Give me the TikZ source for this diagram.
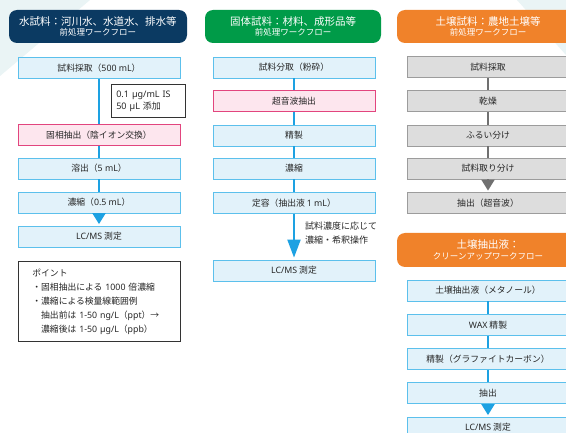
\documentclass[tikz,border=0pt]{standalone}
\usepackage{fontspec}
\setmainfont{Noto Sans CJK JP}
\newfontfamily\latf{Noto Sans}
\newcommand{\lt}[1]{{\latf #1}}
\usetikzlibrary{arrows.meta}
\definecolor{navy}{HTML}{0B3A62}
\definecolor{hgreen}{HTML}{009B48}
\definecolor{horange}{HTML}{F0822A}
\definecolor{bluefill}{HTML}{E2F2FA}
\definecolor{blueedge}{HTML}{5CC0EC}
\definecolor{pinkfill}{HTML}{FDE6EE}
\definecolor{pinkedge}{HTML}{E2457E}
\definecolor{grayfill}{HTML}{DDDDDD}
\definecolor{grayedge}{HTML}{9C9C9C}
\definecolor{connblue}{HTML}{1DA1E2}
\definecolor{conngray}{HTML}{707070}
\definecolor{txt}{HTML}{262626}
\definecolor{bgteal}{HTML}{EAF4F5}
\newcommand{\boxfont}{\fontsize{8.8}{10}\selectfont}
\begin{document}
\begin{tikzpicture}[x=1pt,y=-1pt,
  header/.style={rounded corners=8pt, minimum width=178pt, minimum height=33pt, inner sep=0pt, text=white, align=center},
  bbox/.style={draw=blueedge, fill=bluefill, line width=0.8pt, minimum width=162pt, minimum height=21pt, inner sep=0pt, font=\boxfont, text=txt},
  pbox/.style={bbox, draw=pinkedge, fill=pinkfill},
  gbox/.style={bbox, draw=grayedge, fill=grayfill},
  conn/.style={draw=connblue, line width=2pt},
  gconn/.style={draw=conngray, line width=2pt},
  tri/.style={-{Triangle[width=13pt,length=11pt]}, shorten >=1.5pt},
  notebox/.style={draw=black!80, line width=0.7pt, fill=white, inner sep=0pt, font=\boxfont, text=txt, align=left}
]
\useasboundingbox (0,0) rectangle (566,433);
\fill[white] (0,0) rectangle (566,433);
\fill[bgteal] (0,0) -- (90,0) -- (0,76) -- cycle;
\fill[bgteal] (517,0) -- (566,0) -- (566,55) -- cycle;

% ---------------- column 1 ----------------
\node[header, fill=navy] (h1) at (98,26.5) {{\fontsize{10.5}{12}\selectfont 水試料：河川水、水道水、排水等}\\[-1.5pt]{\fontsize{8.5}{10}\selectfont 前処理ワークフロー}};
\node[bbox] (a1) at (99,68) {試料採取（\lt{500 mL}）};
\node[pbox] (a2) at (99,135) {固相抽出（陰イオン交換）};
\node[bbox] (a3) at (99,168.5) {溶出（\lt{5 mL}）};
\node[bbox] (a4) at (99,202.5) {濃縮（\lt{0.5 mL}）};
\node[bbox] (a5) at (99,236.5) {\lt{LC/MS} 測定};
\node[notebox, minimum width=74pt, minimum height=33pt, text width=64pt, inner xsep=5pt, anchor=north west, font=\fontsize{9}{12}\selectfont] (is) at (111,84) {\lt{0.1 µg/mL IS}\\\lt{50 µL} 添加};
\draw[conn] (a1) -- (a2);
\draw[conn] (a2) -- (a3);
\draw[conn] (a3) -- (a4);
\draw[conn, tri, fill=connblue] (a4) -- (a5);
\node[notebox, minimum width=162pt, minimum height=80pt, text width=134pt, inner xsep=14pt, anchor=north west, font=\fontsize{8.8}{14}\selectfont] (pt) at (18,261) {ポイント\\・固相抽出による \lt{1000} 倍濃縮\\・濃縮による検量線範囲例\\\hspace*{8.8pt}抽出前は \lt{1-50 ng/L}（\lt{ppt}）→\\\hspace*{8.8pt}濃縮後は \lt{1-50 µg/L}（\lt{ppb}）};

% ---------------- column 2 ----------------
\node[header, fill=hgreen, minimum width=176pt] (h2) at (293,26.5) {{\fontsize{10.5}{12}\selectfont 固体試料：材料、成形品等}\\[-1.5pt]{\fontsize{8.5}{10}\selectfont 前処理ワークフロー}};
\node[bbox] (b1) at (294,67.5) {試料分取（粉砕）};
\node[pbox] (b2) at (294,101) {超音波抽出};
\node[bbox] (b3) at (294,135.5) {精製};
\node[bbox] (b4) at (294,168.5) {濃縮};
\node[bbox] (b5) at (294,203) {定容（抽出液 \lt{1 mL}）};
\node[bbox] (b6) at (294,270.5) {\lt{LC/MS} 測定};
\draw[conn] (b1) -- (b2);
\draw[conn] (b2) -- (b3);
\draw[conn] (b3) -- (b4);
\draw[conn] (b4) -- (b5);
\draw[conn, -{Triangle[width=13pt,length=18pt]}, shorten >=2pt, fill=connblue] (b5) -- (b6);
\node[font=\fontsize{9}{14}\selectfont, text=txt, align=left, anchor=north west, inner sep=0pt] (bn) at (305,222) {試料濃度に応じて\\濃縮・希釈操作};

% ---------------- column 3 ----------------
\node[header, fill=horange, minimum width=182pt] (h3) at (488,26.5) {{\fontsize{10.5}{12}\selectfont 土壌試料：農地土壌等}\\[-1.5pt]{\fontsize{8.5}{10}\selectfont 前処理ワークフロー}};
\node[gbox] (c1) at (488,67) {試料採取};
\node[gbox] (c2) at (488,101) {乾燥};
\node[gbox] (c3) at (488,135.5) {ふるい分け};
\node[gbox] (c4) at (488,168.5) {試料取り分け};
\node[gbox] (c5) at (488,203) {抽出（超音波）};
\draw[gconn] (c1) -- (c2);
\draw[gconn] (c2) -- (c3);
\draw[gconn] (c3) -- (c4);
\draw[gconn, tri, fill=conngray] (c4) -- (c5);

\node[header, fill=horange, minimum width=182pt, minimum height=34pt] (h4) at (488,250) {{\fontsize{10.5}{12}\selectfont 土壌抽出液：}\\[-1.5pt]{\fontsize{8.5}{10}\selectfont クリーンアップワークフロー}};
\node[bbox] (d1) at (488,290.5) {土壌抽出液（メタノール）};
\node[bbox] (d2) at (488,325) {\lt{WAX} 精製};
\node[bbox] (d3) at (488,359) {精製（グラファイトカーボン）};
\node[bbox] (d4) at (488,393) {抽出};
\node[bbox] (d5) at (488,427.5) {\lt{LC/MS} 測定};
\draw[conn] (d1) -- (d2);
\draw[conn] (d2) -- (d3);
\draw[conn] (d3) -- (d4);
\draw[conn, tri, fill=connblue] (d4) -- (d5);
\end{tikzpicture}
\end{document}
